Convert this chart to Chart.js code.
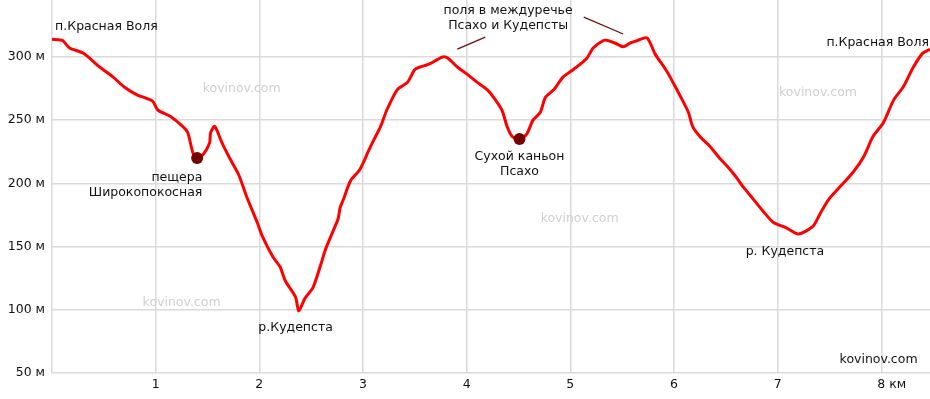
<!DOCTYPE html>
<html>
<head>
<meta charset="utf-8">
<script src="https://cdn.jsdelivr.net/npm/chart.js@4/dist/chart.umd.min.js"></script>
<style>
    html, body { margin: 0; padding: 0; background: #fff; }
    #wrap { width: 930px; height: 399px; }
</style>
</head>
<body>
<div id="wrap"><canvas id="myChart" width="930" height="399"></canvas></div>
<script>
// Profile data: distance (km) and elevation (m)
const distKm = [0.00, 0.10, 0.17, 0.30, 0.46, 0.59, 0.70, 0.82, 0.97, 1.02, 1.14, 1.26, 1.31, 1.36, 1.40, 1.46, 1.52, 1.53, 1.57, 1.64,
    1.72, 1.80, 1.88, 1.98, 2.03, 2.13, 2.20, 2.25, 2.35, 2.38, 2.44, 2.52, 2.59, 2.64, 2.71, 2.76, 2.78, 2.81, 2.88, 2.97,
    3.05, 3.09, 3.17, 3.23, 3.33, 3.43, 3.50, 3.55, 3.63, 3.72, 3.77, 3.82, 3.91, 4.01, 4.10, 4.20, 4.26, 4.34, 4.39, 4.44,
    4.51, 4.58, 4.64, 4.71, 4.76, 4.84, 4.93, 5.03, 5.16, 5.22, 5.32, 5.36, 5.43, 5.51, 5.58, 5.65, 5.74, 5.82, 5.92, 5.99,
    6.08, 6.14, 6.18, 6.25, 6.35, 6.45, 6.52, 6.59, 6.67, 6.76, 6.86, 6.96, 7.08, 7.20, 7.34, 7.41, 7.49, 7.61, 7.73, 7.83,
    7.92, 8.02, 8.12, 8.21, 8.31, 8.40, 8.47]
const elevM = [314, 313, 307, 303, 292, 284, 276, 270, 265, 258, 253, 245, 240, 224, 220, 223, 232, 240, 245, 232,
    219, 207, 189, 169, 158, 142, 134, 123, 110, 99, 109, 118, 135, 148, 162, 172, 181, 187, 202, 211,
    225, 232, 245, 258, 274, 280, 290, 292, 294, 298, 300, 299, 292, 286, 280, 274, 268, 258, 245, 237,
    235, 239, 250, 256, 268, 274, 284, 290, 299, 307, 313, 313, 311, 308, 311, 313, 315, 302, 290, 280,
    266, 256, 245, 237, 229, 219, 213, 206, 197, 188, 178, 169, 165, 160, 166, 176, 187, 198, 209, 221,
    237, 248, 266, 276, 292, 303, 306]

// Marked points (caves / canyon)
const markKm = [1.40, 4.51]
const markM = [220, 235]

// Axes
const yTicks = [50, 100, 150, 200, 250, 300]
const xTicks = [0, 1, 2, 3, 4, 5, 6, 7, 8]
const yMin = 50, yMax = 345
const xMin = 0, xMax = 8.47

// Place names, anchored in km / m
const notes = [
    { lines: ['п.Красная Воля'], km: 0.03, m: 323.6, align: 'left' },
    { lines: ['пещера', 'Широкопокосная'], km: 1.45, m: 204.6, align: 'right' },
    { lines: ['р.Кудепста'], km: 2.35, m: 85.7, align: 'center' },
    { lines: ['поля в междуречье', 'Псахо и Кудепсты'], km: 4.40, m: 336.3, align: 'center' },
    { lines: ['Сухой каньон', 'Псахо'], km: 4.51, m: 221.3, align: 'center' },
    { lines: ['п.Красная Воля'], km: 8.46, m: 310.9, align: 'right' },
    { lines: ['р. Кудепста'], km: 7.07, m: 145.9, align: 'center' },
    { lines: ['kovinov.com'], km: 8.35, m: 60.3, align: 'right' }
]
const leaders = [
    [3.91, 306.1, 4.18, 315.6],
    [5.13, 331.5, 5.51, 318.1]
]
const watermarks = [[1.83, 275.2], [1.25, 105.5], [5.09, 172.1], [7.39, 272.0]]

const FONT = '12.5px "DejaVu Sans", Verdana, sans-serif'
const gridColor = '#dadada'

const extras = {
    id: 'extras',
    beforeDatasetsDraw(chart) {
        const c = chart.ctx, xs = chart.scales.x, ys = chart.scales.y
        c.save()
        c.font = FONT
        c.fillStyle = '#cfcfcf'
        c.textAlign = 'center'
        c.textBaseline = 'middle'
        watermarks.forEach(w => c.fillText('kovinov.com', xs.getPixelForValue(w[0]), ys.getPixelForValue(w[1])))
        c.restore()
    },
    afterDraw(chart) {
        const c = chart.ctx, xs = chart.scales.x, ys = chart.scales.y
        c.save()
        c.font = FONT
        c.fillStyle = '#111'
        c.textBaseline = 'middle'
        // y tick labels
        c.textAlign = 'right'
        yTicks.forEach(v => c.fillText(v + ' м', 45, ys.getPixelForValue(v)))
        // x tick labels
        xTicks.forEach(v => {
            if (v === 0) return
            const px = xs.getPixelForValue(v)
            if (v === 8) {
                c.textAlign = 'left'
                c.fillText('8 км', px - c.measureText('8').width / 2, 385)
            } else {
                c.textAlign = 'center'
                c.fillText(String(v), px, 385)
            }
        })
        // place names
        notes.forEach(n => {
            c.textAlign = n.align
            const px = xs.getPixelForValue(n.km)
            const py = ys.getPixelForValue(n.m)
            n.lines.forEach((t, i) => c.fillText(t, px, py + i * 15))
        })
        // leader lines
        c.strokeStyle = '#6b1010'
        c.lineWidth = 1.3
        leaders.forEach(l => {
            c.beginPath()
            c.moveTo(xs.getPixelForValue(l[0]), ys.getPixelForValue(l[1]))
            c.lineTo(xs.getPixelForValue(l[2]), ys.getPixelForValue(l[3]))
            c.stroke()
        })
        c.restore()
    }
}

const ctx = document.getElementById('myChart')

const chartInstance = new Chart(ctx, {
    type: 'line',
    data: {
        datasets: [{
            type: 'scatter',
            data: markKm.map((x, i) => ({ x: x, y: markM[i] })),
            pointRadius: 6,
            pointBackgroundColor: '#750000',
            pointBorderWidth: 0,
            order: 0
        }, {
            data: distKm.map((x, i) => ({ x: x, y: elevM[i] })),
            borderColor: '#ff0000',
            borderWidth: 3,
            pointRadius: 0,
            tension: 0.25,
            fill: false,
            order: 1
        }]
    },
    options: {
        responsive: false,
        animation: false,
        layout: { padding: 0, autoPadding: false },
        plugins: {
            legend: { display: false },
            tooltip: { enabled: false }
        },
        scales: {
            x: {
                type: 'linear',
                min: xMin,
                max: xMax,
                afterBuildTicks: s => { s.ticks = xTicks.map(v => ({ value: v })) },
                afterFit: s => { s.height = 26 },
                ticks: { display: false },
                grid: { color: gridColor, lineWidth: 1.5, drawTicks: false },
                border: { display: false }
            },
            y: {
                min: yMin,
                max: yMax,
                afterBuildTicks: s => { s.ticks = yTicks.map(v => ({ value: v })) },
                afterFit: s => { s.width = 52 },
                ticks: { display: false },
                grid: { color: gridColor, lineWidth: 1.5, drawTicks: false },
                border: { display: false }
            }
        }
    },
    plugins: [extras]
})
</script>
</body>
</html>
